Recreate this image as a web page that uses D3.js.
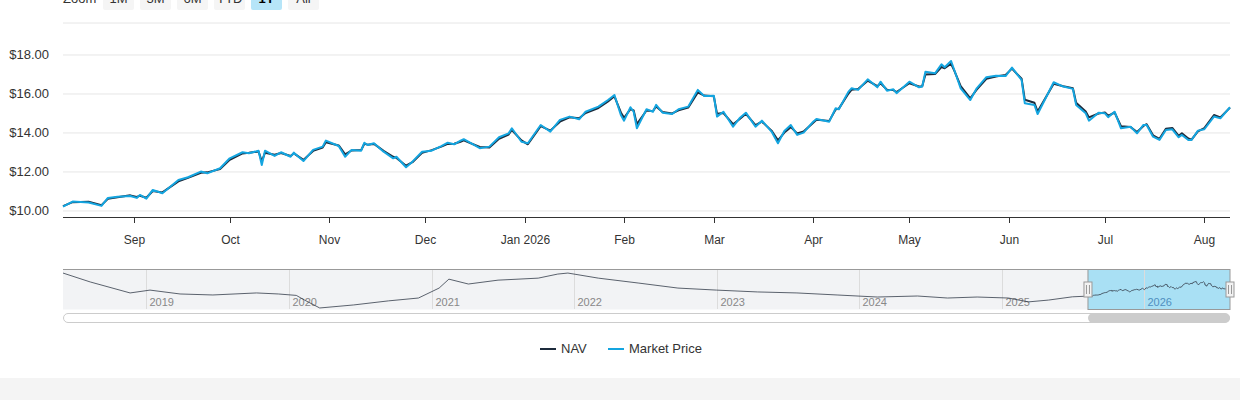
<!DOCTYPE html>
<html><head><meta charset="utf-8">
<script src="https://cdn.jsdelivr.net/npm/d3@7"></script>
<style>body{margin:0;background:#fff;font-family:"Liberation Sans",Arial,sans-serif}svg{display:block}</style>
</head><body><svg id="c" width="1240" height="400"></svg>
<script>
const dates = ["2025-08-10","2025-08-13","2025-08-18","2025-08-22","2025-08-24","2025-08-27","2025-08-31","2025-09-02","2025-09-03","2025-09-05","2025-09-07","2025-09-10","2025-09-15","2025-09-18","2025-09-22","2025-09-24","2025-09-28","2025-10-01","2025-10-05","2025-10-07","2025-10-10","2025-10-11","2025-10-12","2025-10-15","2025-10-17","2025-10-20","2025-10-21","2025-10-24","2025-10-27","2025-10-30","2025-10-31","2025-11-04","2025-11-06","2025-11-08","2025-11-11","2025-11-12","2025-11-13","2025-11-15","2025-11-18","2025-11-21","2025-11-22","2025-11-25","2025-11-27","2025-11-30","2025-12-03","2025-12-06","2025-12-08","2025-12-10","2025-12-12","2025-12-13","2025-12-18","2025-12-21","2025-12-24","2025-12-27","2025-12-28","2025-12-31","2026-01-02","2026-01-06","2026-01-09","2026-01-12","2026-01-15","2026-01-18","2026-01-20","2026-01-24","2026-01-27","2026-01-29","2026-01-31","2026-02-01","2026-02-03","2026-02-04","2026-02-05","2026-02-08","2026-02-10","2026-02-11","2026-02-13","2026-02-16","2026-02-18","2026-02-21","2026-02-24","2026-02-26","2026-03-01","2026-03-02","2026-03-04","2026-03-07","2026-03-09","2026-03-11","2026-03-14","2026-03-16","2026-03-19","2026-03-21","2026-03-23","2026-03-25","2026-03-27","2026-03-29","2026-04-01","2026-04-02","2026-04-06","2026-04-08","2026-04-09","2026-04-12","2026-04-13","2026-04-15","2026-04-18","2026-04-21","2026-04-22","2026-04-24","2026-04-26","2026-04-27","2026-05-01","2026-05-04","2026-05-05","2026-05-06","2026-05-09","2026-05-11","2026-05-12","2026-05-14","2026-05-15","2026-05-17","2026-05-20","2026-05-22","2026-05-25","2026-05-28","2026-05-31","2026-06-02","2026-06-05","2026-06-06","2026-06-09","2026-06-10","2026-06-15","2026-06-18","2026-06-21","2026-06-22","2026-06-25","2026-06-26","2026-06-29","2026-07-01","2026-07-02","2026-07-04","2026-07-06","2026-07-09","2026-07-11","2026-07-13","2026-07-14","2026-07-16","2026-07-18","2026-07-20","2026-07-22","2026-07-24","2026-07-25","2026-07-27","2026-07-28","2026-07-30","2026-08-01","2026-08-04","2026-08-06","2026-08-09"];
const price = [10.22,10.48,10.43,10.26,10.67,10.73,10.77,10.67,10.82,10.63,11.08,10.91,11.59,11.73,12.02,11.93,12.19,12.70,13.01,12.96,13.09,12.36,13.09,12.82,13.01,12.78,12.99,12.56,13.13,13.30,13.61,13.33,12.78,13.13,13.09,13.50,13.38,13.47,13.04,12.70,12.78,12.24,12.53,13.04,13.09,13.33,13.50,13.42,13.61,13.68,13.22,13.30,13.78,13.98,14.24,13.55,13.47,14.41,14.07,14.67,14.84,14.70,15.09,15.35,15.69,15.95,14.92,14.63,15.32,15.09,14.24,15.22,15.09,15.44,15.04,14.97,15.22,15.35,16.21,15.90,15.91,14.84,15.09,14.32,14.75,15.04,14.32,14.63,14.07,13.47,14.10,14.41,13.90,14.02,14.58,14.72,14.58,15.27,15.22,16.12,16.29,16.21,16.75,16.34,16.63,16.17,16.24,16.04,16.63,16.34,16.38,17.14,17.06,17.52,17.37,17.69,17.23,16.29,15.69,16.29,16.86,16.94,16.92,17.35,16.72,15.52,15.44,14.97,16.60,16.38,16.26,15.44,15.01,14.63,15.04,15.01,14.81,15.09,14.24,14.32,13.98,14.41,14.41,13.81,13.64,14.15,14.19,13.78,13.90,13.64,13.64,14.12,14.19,14.84,14.75,15.32];
const nav = [10.25,10.45,10.47,10.30,10.62,10.70,10.80,10.72,10.78,10.68,11.02,10.95,11.52,11.70,11.96,11.98,12.15,12.62,12.95,12.98,13.05,12.55,12.98,12.88,12.97,12.82,12.95,12.62,13.08,13.25,13.52,13.36,12.90,13.10,13.12,13.45,13.40,13.44,13.08,12.78,12.72,12.32,12.50,12.98,13.12,13.30,13.44,13.45,13.55,13.62,13.28,13.26,13.70,13.92,14.15,13.62,13.42,14.35,14.12,14.58,14.80,14.75,15.02,15.28,15.62,15.88,15.05,14.78,15.22,15.15,14.45,15.15,15.12,15.36,15.08,15.00,15.16,15.30,16.08,15.92,15.88,14.98,15.02,14.45,14.70,14.98,14.40,14.58,14.12,13.62,14.02,14.30,13.98,14.08,14.52,14.68,14.62,15.20,15.25,16.02,16.22,16.25,16.68,16.40,16.55,16.22,16.20,16.10,16.55,16.38,16.40,17.00,17.02,17.38,17.32,17.55,17.20,16.40,15.78,16.22,16.78,16.90,16.98,17.30,16.78,15.70,15.55,15.10,16.52,16.40,16.30,15.55,15.10,14.80,15.00,15.05,14.88,15.05,14.35,14.30,14.05,14.36,14.45,13.88,13.70,14.22,14.26,13.85,13.98,13.72,13.66,14.08,14.25,14.92,14.80,15.30];
const historyDates = ["2018-06-01","2018-08-10","2018-11-20","2019-01-10","2019-03-28","2019-06-20","2019-10-10","2019-12-05","2020-01-20","2020-02-10","2020-03-20","2020-06-15","2020-09-12","2020-11-28","2021-01-20","2021-02-14","2021-04-05","2021-06-20","2021-10-01","2021-11-20","2021-12-16","2022-03-04","2022-06-14","2022-09-24","2023-01-01","2023-04-16","2023-07-26","2023-11-06","2024-02-17","2024-05-30","2024-08-15","2024-10-30","2025-01-18","2025-03-10","2025-05-01","2025-07-01"];
const historyNav = [21.6,17.2,11.8,13.2,11.3,10.8,11.8,11.3,10.6,8.3,4.4,5.9,7.9,9.3,14.2,18.6,16.2,18.1,19.1,21.1,21.6,19.1,16.7,14.2,13.2,12.3,11.8,10.8,9.8,10.3,9.3,9.8,9.3,7.4,8.3,9.9];
const yTicks = [10,12,14,16,18];
const monthTicks = ["2025-09-01","2025-10-01","2025-11-01","2025-12-01","2026-01-01","2026-02-01","2026-03-01","2026-04-01","2026-05-01","2026-06-01","2026-07-01","2026-08-01"];
const yearTicks = ["2019","2020","2021","2022","2023","2024","2025","2026"];
const zoomButtons = ["1M","3M","6M","YTD","1Y","All"];
const seriesNames = ["NAV","Market Price"];

const P = d3.timeParse("%Y-%m-%d");
const svg = d3.select("#c");
const L = 63, R = 1230;
const mainData = dates.map((d,i)=>({d:P(d),p:price[i],n:nav[i]}));
const x = d3.scaleTime().domain([P("2025-08-10"),P("2026-08-09")]).range([L,R]);
const y = d3.scaleLinear().domain([9.69,19.64]).range([217,23]);

// zoom buttons
svg.append("text").attr("x",63).attr("y",3).attr("font-size",13).attr("fill","#333").text("Zoom");
zoomButtons.forEach((b,i)=>{
  const bx = 103 + i*37;
  svg.append("rect").attr("x",bx).attr("y",-14).attr("width",31).attr("height",24).attr("rx",2)
    .attr("fill", b==="1Y" ? "#b6e5f8" : "#f5f5f5");
  svg.append("text").attr("x",bx+15.5).attr("y",3).attr("text-anchor","middle").attr("font-size",13)
    .attr("fill", b==="1Y" ? "#000" : "#333").attr("font-weight", b==="1Y"?"bold":"normal").text(b);
});

// grid
svg.append("line").attr("x1",L).attr("x2",R).attr("y1",y(19.64)).attr("y2",y(19.64)).attr("stroke","#e6e6e6");
yTicks.forEach(t=>{
  svg.append("line").attr("x1",L).attr("x2",R).attr("y1",y(t)).attr("y2",y(t)).attr("stroke","#e6e6e6");
  svg.append("text").attr("x",49).attr("y",y(t)+4.5).attr("text-anchor","end").attr("font-size",13).attr("fill","#333").text("$"+t.toFixed(2));
});
// x axis
svg.append("line").attr("x1",L).attr("x2",R).attr("y1",217.5).attr("y2",217.5).attr("stroke","#333");
const fmt = d=> d.getMonth()===0 ? d3.timeFormat("%b %Y")(d) : d3.timeFormat("%b")(d);
monthTicks.forEach(m=>{
  const xx = Math.round(x(P(m)))+0.5;
  svg.append("line").attr("x1",xx).attr("x2",xx).attr("y1",217).attr("y2",223).attr("stroke","#333");
  svg.append("text").attr("x",xx).attr("y",244).attr("text-anchor","middle").attr("font-size",12).attr("fill","#333").text(fmt(P(m)));
});
// lines
const ln = k => d3.line().x(d=>x(d.d)).y(d=>y(d[k]));
svg.append("path").datum(mainData).attr("d",ln("n")).attr("fill","none").attr("stroke","#1d2b3c").attr("stroke-width",2).attr("stroke-linejoin","round");
svg.append("path").datum(mainData).attr("d",ln("p")).attr("fill","none").attr("stroke","#14a5e0").attr("stroke-width",2).attr("stroke-linejoin","round");

// navigator
const navData = historyDates.map((d,i)=>({d:P(d),v:historyNav[i]})).concat(mainData.map(d=>({d:d.d,v:d.n})));
const nx = d3.scaleTime().domain([P("2018-06-01"),P("2026-08-09")]).range([L,R]);
const ny = d3.scaleLinear().domain([3.9,23.1]).range([309,270]);
svg.append("rect").attr("x",L).attr("y",269.5).attr("width",R-L).attr("height",40).attr("fill","#f2f3f5");
svg.append("rect").attr("x",nx(P("2025-08-10"))).attr("y",269.5).attr("width",R-nx(P("2025-08-10"))).attr("height",40).attr("fill","#a9e0f4");
yearTicks.forEach(yr=>{
  const xx = Math.round(nx(P(yr+"-01-01")))+0.5;
  svg.append("line").attr("x1",xx).attr("x2",xx).attr("y1",270).attr("y2",309).attr("stroke","#dcdcdc");
  svg.append("text").attr("x",xx+3).attr("y",306).attr("font-size",11).attr("fill",yr==="2026"?"#4f8fc0":"#888").text(yr);
});
svg.append("path").datum(navData).attr("d",d3.line().x(d=>nx(d.d)).y(d=>ny(d.v))).attr("fill","none").attr("stroke","#333c4a").attr("stroke-width",0.8);
svg.append("line").attr("x1",L).attr("x2",nx(P("2025-08-10"))).attr("y1",269.5).attr("y2",269.5).attr("stroke","#999");
const sx = nx(P("2025-08-10"));
svg.append("rect").attr("x",sx).attr("y",269.5).attr("width",R-sx).attr("height",40).attr("fill","none").attr("stroke","#999");
[sx,R].forEach(hx=>{
  svg.append("rect").attr("x",hx-4).attr("y",282).attr("width",8).attr("height",15).attr("fill","#f2f2f2").attr("stroke","#999");
  svg.append("line").attr("x1",hx-1.5).attr("x2",hx-1.5).attr("y1",285).attr("y2",294).attr("stroke","#999");
  svg.append("line").attr("x1",hx+1.5).attr("x2",hx+1.5).attr("y1",285).attr("y2",294).attr("stroke","#999");
});
// scrollbar
svg.append("rect").attr("x",L+0.5).attr("y",313.5).attr("width",R-L-1).attr("height",9).attr("rx",4.5).attr("fill","#fff").attr("stroke","#ccc");
svg.append("rect").attr("x",sx).attr("y",313.5).attr("width",R-sx).attr("height",9).attr("rx",4.5).attr("fill","#cccccc");

// legend
const lg = [{n:seriesNames[0],c:"#1d2b3c",x:540},{n:seriesNames[1],c:"#14a5e0",x:608}];
lg.forEach(l=>{
  svg.append("line").attr("x1",l.x).attr("x2",l.x+16).attr("y1",349).attr("y2",349).attr("stroke",l.c).attr("stroke-width",2);
  svg.append("text").attr("x",l.x+21).attr("y",353).attr("font-size",13).attr("fill","#333").text(l.n);
});
svg.append("rect").attr("x",0).attr("y",378).attr("width",1240).attr("height",22).attr("fill","#f4f4f4");
</script></body></html>
